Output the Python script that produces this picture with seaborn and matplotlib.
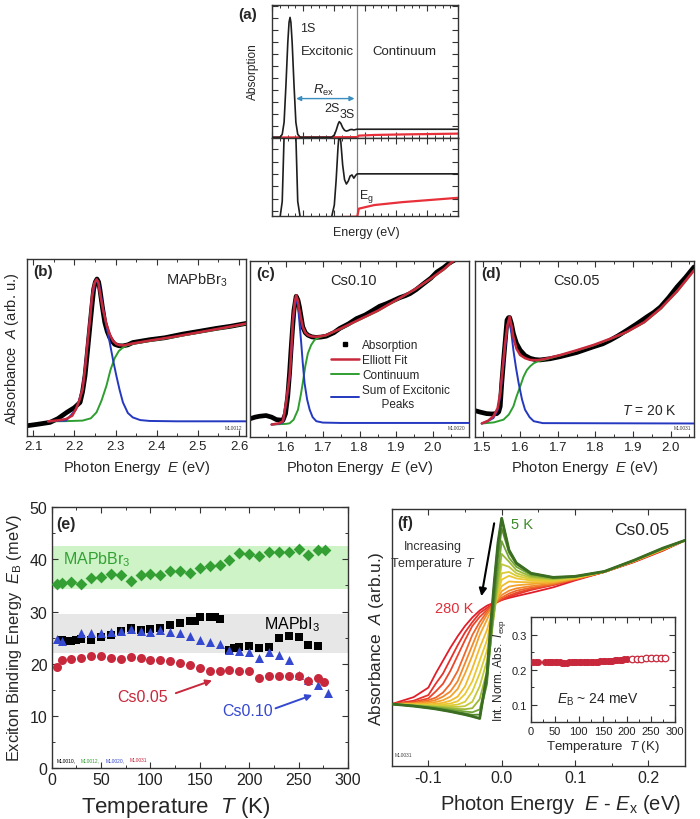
"""Exciton absorption figure: Elliott model sketch, fitted spectra, binding energies."""

import matplotlib

matplotlib.use("Agg")
import matplotlib.pyplot as plt
import pandas as pd
import seaborn as sns
from matplotlib.lines import Line2D
from matplotlib.ticker import MultipleLocator

sns.set_theme(style="ticks")
plt.rcParams["font.family"] = ["Liberation Sans", "DejaVu Sans"]
plt.rcParams["mathtext.fontset"] = "custom"
plt.rcParams["mathtext.rm"] = "Liberation Sans"
plt.rcParams["mathtext.it"] = "Liberation Sans:italic"
plt.rcParams["mathtext.bf"] = "Liberation Sans:bold"
plt.rcParams["axes.unicode_minus"] = False

BLACK = "#1e1e1e"
RED = "#c8283c"
GREEN = "#2f9e30"
BLUE = "#2438c0"
EGREEN = "#34a034"
EBLUE = "#3548d0"

# ---- (a) Elliott model sketch (arbitrary units) ----
A_X = [0.0, 0.26, 0.33, 0.39, 0.45, 0.51, 0.55, 0.582, 0.61, 0.65, 0.71, 0.77, 0.83, 0.91,
       1.92, 2.01, 2.07, 2.13, 2.17, 2.22, 2.28, 2.34, 2.40, 2.46, 2.52, 2.58, 2.64, 2.70, 2.75, 6.0]
A_ABS = [0.008, 0.008, 0.03, 0.12, 0.40, 0.72, 0.87, 0.907, 0.87, 0.72, 0.40, 0.12, 0.03, 0.008,
         0.008, 0.025, 0.06, 0.105, 0.125, 0.112, 0.08, 0.06, 0.054, 0.058, 0.065, 0.0665, 0.062,
         0.066, 0.068, 0.068]
A_CONT_X = [0.0, 2.75, 2.8, 3.3, 4.2, 5.1, 6.0]
A_CONT = [0.006, 0.009, 0.02, 0.025, 0.029, 0.032, 0.035]
A_EG = 2.75

# ---- (b) MAPbBr3 ----
B_DATA_X = [2.085, 2.11, 2.141, 2.16, 2.182, 2.2, 2.214, 2.22, 2.226, 2.232, 2.238, 2.243, 2.247,
            2.251, 2.255, 2.259, 2.262, 2.268, 2.274, 2.28, 2.286, 2.292, 2.298, 2.308, 2.318, 2.33,
            2.342, 2.36, 2.383, 2.42, 2.464, 2.5, 2.545, 2.58, 2.617]
B_DATA_Y = [0.058, 0.066, 0.077, 0.098, 0.134, 0.16, 0.19, 0.25, 0.341, 0.48, 0.623, 0.74, 0.83,
            0.87, 0.887, 0.87, 0.83, 0.73, 0.641, 0.59, 0.556, 0.535, 0.518, 0.51, 0.509, 0.515,
            0.528, 0.535, 0.544, 0.555, 0.576, 0.59, 0.608, 0.62, 0.636]
B_FIT_X = [2.136, 2.16, 2.18, 2.195, 2.204, 2.212, 2.22, 2.226, 2.232, 2.238, 2.243, 2.248, 2.254,
           2.258, 2.262, 2.27, 2.278, 2.286, 2.294, 2.302, 2.31, 2.32, 2.34, 2.38, 2.44, 2.5, 2.56,
           2.617]
B_FIT_Y = [0.083, 0.088, 0.096, 0.115, 0.153, 0.2, 0.265, 0.38, 0.528, 0.66, 0.79, 0.86, 0.885,
           0.87, 0.81, 0.71, 0.632, 0.575, 0.537, 0.52, 0.513, 0.512, 0.522, 0.538, 0.56, 0.585,
           0.61, 0.635]
B_CONT_X = [2.136, 2.18, 2.22, 2.24, 2.254, 2.266, 2.278, 2.288, 2.298, 2.308, 2.318, 2.328, 2.34,
            2.38, 2.44, 2.5, 2.56, 2.617]
B_CONT_Y = [0.083, 0.084, 0.087, 0.10, 0.134, 0.2, 0.284, 0.375, 0.44, 0.48, 0.50, 0.512, 0.52,
            0.536, 0.558, 0.583, 0.608, 0.633]
B_EXC_X = [2.136, 2.18, 2.204, 2.22, 2.232, 2.243, 2.25, 2.255, 2.26, 2.27, 2.278, 2.286, 2.294,
           2.302, 2.31, 2.318, 2.33, 2.342, 2.36, 2.383, 2.45, 2.617]
B_EXC_Y = [0.083, 0.087, 0.15, 0.26, 0.52, 0.78, 0.86, 0.885, 0.86, 0.72, 0.62, 0.528, 0.43, 0.341,
           0.26, 0.19, 0.13, 0.105, 0.09, 0.085, 0.083, 0.083]

# ---- (c) Cs0.10 ----
C_DATA_X = [1.50, 1.515, 1.527, 1.545, 1.56, 1.573, 1.591, 1.598, 1.604, 1.609, 1.613, 1.617, 1.621,
            1.627, 1.632, 1.636, 1.645, 1.652, 1.659, 1.67, 1.682, 1.695, 1.709, 1.73, 1.746, 1.77,
            1.792, 1.815, 1.837, 1.855, 1.874, 1.89, 1.91, 1.925, 1.938, 1.955, 1.975, 1.995, 2.011,
            2.03, 2.048, 2.058]
C_DATA_Y = [0.10, 0.11, 0.115, 0.119, 0.11, 0.096, 0.092, 0.13, 0.228, 0.36, 0.491, 0.61, 0.717,
            0.797, 0.775, 0.736, 0.623, 0.59, 0.576, 0.566, 0.563, 0.565, 0.57, 0.59, 0.614, 0.64,
            0.67, 0.69, 0.717, 0.74, 0.755, 0.77, 0.789, 0.80, 0.812, 0.835, 0.868, 0.90, 0.934,
            0.96, 0.99, 1.0]
C_FIT_X = [1.56, 1.58, 1.591, 1.6, 1.609, 1.614, 1.618, 1.623, 1.627, 1.632, 1.636, 1.645, 1.652,
           1.659, 1.67, 1.682, 1.695, 1.709, 1.75, 1.8, 1.85, 1.9, 1.95, 2.0, 2.03, 2.057]
C_FIT_Y = [0.068, 0.075, 0.087, 0.2, 0.341, 0.5, 0.661, 0.76, 0.802, 0.77, 0.717, 0.623, 0.59,
           0.576, 0.568, 0.567, 0.57, 0.576, 0.615, 0.665, 0.715, 0.775, 0.835, 0.905, 0.95, 1.0]
C_CONT_X = [1.56, 1.6, 1.609, 1.62, 1.632, 1.64, 1.645, 1.652, 1.659, 1.668, 1.677, 1.686, 1.695,
            1.709, 1.75, 1.8, 1.85, 1.9, 1.95, 2.0, 2.03, 2.057]
C_CONT_Y = [0.068, 0.072, 0.075, 0.095, 0.152, 0.24, 0.303, 0.40, 0.472, 0.52, 0.548, 0.56, 0.567,
            0.574, 0.613, 0.663, 0.713, 0.773, 0.833, 0.903, 0.948, 0.998]
C_EXC_X = [1.56, 1.58, 1.591, 1.6, 1.609, 1.614, 1.618, 1.623, 1.627, 1.632, 1.636, 1.641, 1.645,
           1.65, 1.657, 1.664, 1.672, 1.682, 1.7, 1.75, 2.1]
C_EXC_Y = [0.068, 0.072, 0.08, 0.19, 0.33, 0.48, 0.64, 0.74, 0.79, 0.74, 0.65, 0.528, 0.42, 0.303,
           0.21, 0.152, 0.11, 0.087, 0.079, 0.077, 0.077]

# ---- (d) Cs0.05 ----
D_DATA_X = [1.48, 1.495, 1.511, 1.525, 1.538, 1.543, 1.547, 1.551, 1.556, 1.561, 1.565, 1.569, 1.572,
            1.577, 1.582, 1.59, 1.6, 1.613, 1.627, 1.64, 1.653, 1.68, 1.707, 1.75, 1.795, 1.82, 1.84,
            1.86, 1.884, 1.91, 1.937, 1.955, 1.973, 1.995, 2.017, 2.04, 2.062]
D_DATA_Y = [0.147, 0.138, 0.13, 0.128, 0.13, 0.14, 0.171, 0.30, 0.435, 0.56, 0.661, 0.675, 0.676,
            0.64, 0.585, 0.53, 0.491, 0.46, 0.444, 0.437, 0.435, 0.442, 0.454, 0.477, 0.51, 0.527,
            0.548, 0.572, 0.604, 0.64, 0.68, 0.705, 0.736, 0.79, 0.85, 0.905, 0.963]
D_FIT_X = [1.498, 1.515, 1.529, 1.54, 1.547, 1.554, 1.56, 1.566, 1.572, 1.577, 1.582, 1.59, 1.6,
           1.613, 1.627, 1.645, 1.662, 1.707, 1.75, 1.795, 1.84, 1.884, 1.93, 1.973, 2.017, 2.062]
D_FIT_Y = [0.074, 0.09, 0.115, 0.16, 0.247, 0.4, 0.529, 0.63, 0.68, 0.63, 0.566, 0.5, 0.463, 0.445,
           0.435, 0.434, 0.439, 0.463, 0.49, 0.52, 0.556, 0.595, 0.65, 0.727, 0.825, 0.944]
D_CONT_X = [1.498, 1.53, 1.556, 1.57, 1.582, 1.59, 1.6, 1.609, 1.618, 1.627, 1.636, 1.648, 1.662,
            1.707, 1.75, 1.795, 1.84, 1.884, 1.93, 1.973, 2.017, 2.062]
D_CONT_Y = [0.074, 0.08, 0.096, 0.125, 0.171, 0.225, 0.284, 0.34, 0.378, 0.40, 0.416, 0.428, 0.435,
            0.461, 0.488, 0.518, 0.554, 0.593, 0.648, 0.725, 0.823, 0.942]
D_EXC_X = [1.498, 1.515, 1.529, 1.54, 1.547, 1.554, 1.56, 1.566, 1.57, 1.576, 1.582, 1.589, 1.596,
           1.605, 1.613, 1.625, 1.636, 1.66, 2.062]
D_EXC_Y = [0.074, 0.088, 0.105, 0.15, 0.23, 0.38, 0.5, 0.62, 0.66, 0.6, 0.491, 0.39, 0.303, 0.21,
           0.152, 0.11, 0.087, 0.076, 0.074]

# ---- (e) exciton binding energy vs temperature ----
E_T_BR = [5, 10, 20, 30, 40, 50, 60, 70, 80, 90, 100, 110, 120, 130, 140, 150, 160, 170, 180, 190,
          200, 210, 220, 230, 240, 250, 260, 270, 277]
E_EB_BR = [35.2, 35.5, 35.7, 35.3, 36.4, 36.7, 37.1, 36.9, 35.9, 37.0, 37.2, 36.9, 37.8, 37.8, 37.3,
           38.4, 38.8, 38.9, 39.8, 41.2, 41.0, 40.6, 41.3, 41.4, 41.4, 42.0, 40.9, 41.8, 41.8]
E_T_I = [10, 15, 20, 25, 30, 40, 50, 60, 70, 80, 90, 100, 110, 120, 130, 140, 145, 150, 160, 165,
         170, 180, 185, 190, 200, 210, 220, 230, 240, 250, 260, 270]
E_EB_I = [24.5, 24.4, 24.4, 24.6, 24.8, 24.6, 25.2, 25.5, 26.2, 26.8, 26.5, 26.7, 26.8, 27.4, 27.8,
          28.1, 28.2, 29.0, 29.0, 29.0, 28.5, 22.7, 23.0, 23.3, 23.4, 23.0, 23.2, 24.9, 25.3, 25.1,
          23.5, 23.4]
E_T_CS10 = [5, 10, 30, 40, 50, 60, 70, 80, 90, 100, 110, 120, 130, 140, 150, 160, 170, 180, 190, 200,
            210, 220, 230, 240, 250, 260, 270, 280]
E_EB_CS10 = [24.7, 24.3, 25.8, 25.8, 25.9, 26.1, 26.2, 26.6, 26.3, 26.1, 26.5, 26.1, 25.8, 25.3,
             24.6, 24.1, 23.7, 22.7, 22.5, 22.2, 21.2, 22.2, 21.7, 20.7, 17.8, 16.9, 15.9, 14.4]
E_T_CS05 = [5, 10, 20, 30, 40, 50, 60, 70, 80, 90, 100, 110, 120, 130, 140, 150, 160, 170, 180, 190,
            200, 210, 220, 230, 240, 250, 260, 270, 276]
E_EB_CS05 = [19.3, 20.7, 20.9, 21.1, 21.5, 21.5, 21.2, 21.0, 21.3, 21.1, 20.8, 20.7, 20.5, 20.2,
             19.7, 19.2, 18.6, 18.6, 18.8, 18.6, 18.7, 17.2, 17.7, 17.7, 17.7, 17.7, 16.7, 17.3, 16.5]
E_BAND_BR = (34.4, 42.5)
E_BAND_I = (22.0, 29.5)

# ---- (f) temperature series of Cs0.05 (normalised absorbance) ----
F_X = [-0.15, -0.12, -0.10, -0.09, -0.08, -0.07, -0.06, -0.05, -0.04, -0.03, -0.02, -0.015, -0.01,
       -0.005, 0.0, 0.01, 0.02, 0.04, 0.07, 0.10, 0.14, 0.18, 0.22, 0.25]
F_TEMPS = [5, 20, 40, 60, 80, 100, 120, 140, 160, 180, 200, 220, 250, 280]
F_ABS = [
    [0.241, 0.233, 0.226, 0.222, 0.217, 0.212, 0.206, 0.200, 0.193, 0.185, 0.36, 0.55, 0.72, 0.87,
     0.964, 0.84, 0.79, 0.75, 0.734, 0.738, 0.757, 0.800, 0.848, 0.878],
    [0.241, 0.234, 0.228, 0.224, 0.220, 0.215, 0.210, 0.205, 0.199, 0.20, 0.32, 0.49, 0.66, 0.81,
     0.925, 0.83, 0.785, 0.747, 0.733, 0.737, 0.757, 0.800, 0.847, 0.878],
    [0.241, 0.235, 0.230, 0.227, 0.224, 0.220, 0.216, 0.212, 0.209, 0.22, 0.34, 0.48, 0.63, 0.76,
     0.875, 0.81, 0.775, 0.743, 0.731, 0.736, 0.757, 0.799, 0.846, 0.878],
    [0.241, 0.236, 0.232, 0.230, 0.228, 0.225, 0.222, 0.221, 0.225, 0.26, 0.37, 0.48, 0.60, 0.72,
     0.825, 0.795, 0.762, 0.737, 0.728, 0.735, 0.756, 0.799, 0.845, 0.878],
    [0.241, 0.237, 0.234, 0.232, 0.231, 0.230, 0.230, 0.233, 0.25, 0.31, 0.41, 0.50, 0.60, 0.70,
     0.785, 0.775, 0.75, 0.732, 0.726, 0.734, 0.756, 0.798, 0.845, 0.878],
    [0.241, 0.238, 0.236, 0.235, 0.235, 0.236, 0.239, 0.25, 0.29, 0.36, 0.45, 0.53, 0.61, 0.685,
     0.75, 0.755, 0.74, 0.727, 0.723, 0.733, 0.756, 0.798, 0.844, 0.878],
    [0.241, 0.239, 0.238, 0.238, 0.240, 0.243, 0.252, 0.28, 0.33, 0.41, 0.49, 0.56, 0.62, 0.675,
     0.725, 0.74, 0.73, 0.722, 0.720, 0.732, 0.756, 0.798, 0.844, 0.878],
    [0.241, 0.240, 0.240, 0.242, 0.246, 0.254, 0.27, 0.31, 0.38, 0.46, 0.53, 0.58, 0.625, 0.665,
     0.70, 0.718, 0.716, 0.715, 0.717, 0.731, 0.756, 0.797, 0.843, 0.878],
    [0.241, 0.242, 0.245, 0.249, 0.256, 0.27, 0.30, 0.36, 0.43, 0.51, 0.57, 0.60, 0.63, 0.655,
     0.68, 0.698, 0.703, 0.708, 0.714, 0.730, 0.756, 0.797, 0.843, 0.878],
    [0.241, 0.244, 0.25, 0.257, 0.27, 0.29, 0.33, 0.40, 0.47, 0.54, 0.59, 0.61, 0.63, 0.648,
     0.665, 0.682, 0.691, 0.70, 0.71, 0.728, 0.755, 0.796, 0.842, 0.878],
    [0.241, 0.246, 0.256, 0.266, 0.286, 0.32, 0.37, 0.44, 0.51, 0.56, 0.60, 0.617, 0.63, 0.643,
     0.655, 0.671, 0.682, 0.694, 0.707, 0.727, 0.755, 0.796, 0.841, 0.878],
    [0.241, 0.249, 0.263, 0.29, 0.32, 0.37, 0.43, 0.49, 0.545, 0.58, 0.607, 0.62, 0.63, 0.640,
     0.649, 0.663, 0.674, 0.689, 0.705, 0.726, 0.755, 0.795, 0.840, 0.878],
    [0.241, 0.254, 0.276, 0.32, 0.36, 0.415, 0.47, 0.52, 0.56, 0.595, 0.615, 0.624, 0.632, 0.639,
     0.646, 0.658, 0.668, 0.685, 0.704, 0.725, 0.755, 0.794, 0.839, 0.878],
    [0.241, 0.268, 0.305, 0.36, 0.41, 0.46, 0.505, 0.545, 0.578, 0.605, 0.624, 0.630, 0.636, 0.641,
     0.646, 0.654, 0.661, 0.674, 0.695, 0.722, 0.755, 0.793, 0.838, 0.878],
]
F_COLORS = ["#3b6e22", "#78aa38", "#d2cf3a", "#f2c52e", "#f2952c", "#ec4a2a", "#e01e2a"]

# inset: integrated normalised absorbance
I_T_FIT = [5, 10, 15, 30, 35, 40, 45, 50, 55, 60, 65, 70, 75, 80, 85, 90, 95, 100, 105, 110, 115,
           120, 125, 130, 135, 140, 145, 150, 155, 160, 165, 170, 175, 180, 185, 190, 195, 200]
I_VAL_FIT = [0.222, 0.222, 0.222, 0.221, 0.221, 0.221, 0.221, 0.221, 0.221, 0.221, 0.220, 0.220,
             0.220, 0.221, 0.221, 0.221, 0.221, 0.222, 0.222, 0.222, 0.222, 0.222, 0.223, 0.223,
             0.223, 0.223, 0.224, 0.224, 0.225, 0.225, 0.226, 0.226, 0.227, 0.227, 0.228, 0.229,
             0.230, 0.231]
I_T_OPEN = [210, 220, 230, 240, 250, 260, 270, 280]
I_VAL_OPEN = [0.232, 0.232, 0.232, 0.233, 0.233, 0.233, 0.233, 0.234]

W, H = 700.0, 820.0


def rect(left, top, right, bottom):
    """Axes rectangle from pixel edges (origin top-left)."""
    return [left / W, 1 - bottom / H, (right - left) / W, (bottom - top) / H]


def frame(ax, xmaj, xmin, ymaj=None, ymin=None, size=10, yticks=True):
    ax.xaxis.set_major_locator(MultipleLocator(xmaj))
    ax.xaxis.set_minor_locator(MultipleLocator(xmin))
    if ymaj is not None:
        ax.yaxis.set_major_locator(MultipleLocator(ymaj))
    if ymin is not None:
        ax.yaxis.set_minor_locator(MultipleLocator(ymin))
    ax.tick_params(which="both", direction="in", top=True, right=True,
                   labelsize=size, color="#333333", labelcolor="#222222", pad=3)
    ax.tick_params(which="major", length=4, width=0.8)
    ax.tick_params(which="minor", length=2.2, width=0.7)
    if not yticks:
        ax.tick_params(axis="y", which="both", left=False, right=False, labelleft=False)
    for spine in ax.spines.values():
        spine.set_visible(True)
        spine.set_linewidth(1.0)
        spine.set_color("#333333")
    ax.set_xlabel("")
    ax.set_ylabel("")


def line(ax, x, y, color, lw, z=2):
    sns.lineplot(x=x, y=y, color=color, linewidth=lw, sort=False, estimator=None, ax=ax, zorder=z)


fig = plt.figure(figsize=(7.0, 8.2), dpi=100)

# ---------------- (a) ----------------
ax_a1 = fig.add_axes(rect(272, 6, 458, 139.3))
ax_a2 = fig.add_axes(rect(272, 139.3, 458, 217.3))
for ax, ylim in ((ax_a1, (0.0, 1.0)), (ax_a2, (0.0095, 0.117))):
    line(ax, A_CONT_X, A_CONT, "#e8303a", 1.6, z=2)
    line(ax, A_X, A_ABS, BLACK, 1.2, z=3)
    ax.axvline(A_EG, color="#808080", lw=0.9, zorder=1)
    ax.set_xlim(0, 6)
    ax.set_ylim(*ylim)
    frame(ax, 1, 0.25, size=8)
    ax.tick_params(labelbottom=False, labelleft=False)
ax_a1.yaxis.set_major_locator(MultipleLocator(0.09))
ax_a2.yaxis.set_major_locator(MultipleLocator(0.017))
ax_a1.annotate("", xy=(A_EG, 0.298), xytext=(0.69, 0.298),
               arrowprops=dict(arrowstyle="<|-|>", color="#3a8fc0", lw=1.0, mutation_scale=7))
ax_a1.text(0.89, 0.83, "1S", fontsize=9, va="center")
ax_a1.text(1.78, 0.656, "Excitonic", fontsize=9.5, ha="center", va="center")
ax_a1.text(4.28, 0.656, "Continuum", fontsize=9.5, ha="center", va="center")
ax_a1.text(1.68, 0.37, r"$R_\mathrm{ex}$", fontsize=9.5, ha="center", va="center")
ax_a1.text(1.93, 0.225, "2S", fontsize=9, ha="center", va="center")
ax_a1.text(2.42, 0.18, "3S", fontsize=9, ha="center", va="center")
ax_a2.text(2.82, 0.038, r"E$_\mathrm{g}$", fontsize=9, va="center")
fig.text(238 / W, 1 - 15 / H, "(a)", fontsize=11, fontweight="bold", va="center")
fig.text(253 / W, 1 - 72 / H, "Absorption", fontsize=8.6, rotation=90, ha="center", va="center")
fig.text(366 / W, 1 - 233 / H, "Energy (eV)", fontsize=9, ha="center", va="center")

# ---------------- (b)-(d) ----------------
spectra = [
    (rect(27, 260, 246, 437), B_DATA_X, B_DATA_Y, B_FIT_X, B_FIT_Y, B_CONT_X, B_CONT_Y,
     B_EXC_X, B_EXC_Y, (2.085, 2.617), "(b)", "MAPbBr$_3$", 2.497, "ML0012"),
    (rect(250, 261.5, 469, 437.5), C_DATA_X, C_DATA_Y, C_FIT_X, C_FIT_Y, C_CONT_X, C_CONT_Y,
     C_EXC_X, C_EXC_Y, (1.501, 2.099), "(c)", "Cs0.10", 1.784, "ML0020"),
    (rect(475, 261.5, 694, 437.5), D_DATA_X, D_DATA_Y, D_FIT_X, D_FIT_Y, D_CONT_X, D_CONT_Y,
     D_EXC_X, D_EXC_Y, (1.48, 2.062), "(d)", "Cs0.05", 1.75, "ML0031"),
]
spec_axes = []
for (r, dx, dy, fx, fy, cx, cy, ex, ey, xlim, tag, name, name_x, code) in spectra:
    ax = fig.add_axes(r)
    line(ax, dx, dy, "black", 3.4, z=2)
    line(ax, cx, cy, GREEN, 1.4, z=3)
    line(ax, ex, ey, BLUE, 1.4, z=3)
    line(ax, fx, fy, RED, 1.8, z=4)
    ax.set_xlim(*xlim)
    ax.set_ylim(0.0, 1.0)
    frame(ax, 0.1, 0.05, size=9.5, yticks=False)
    ax.text(0.03, 0.93, tag, transform=ax.transAxes, fontsize=11, fontweight="bold", va="center")
    ax.text(name_x, 0.887, name, fontsize=10.5, ha="center", va="center")
    ax.text(0.985, 0.05, code, transform=ax.transAxes, fontsize=3.5, ha="right", va="center",
            color="#444444")
    ax.set_xlabel("Photon Energy  $E$ (eV)", fontsize=10.5, labelpad=4)
    spec_axes.append(ax)
ax_b, ax_c, ax_d = spec_axes
ax_b.set_ylabel("Absorbance  $A$ (arb. u.)", fontsize=10.5, labelpad=4)
ax_d.text(1.942, 0.153, "$T$ = 20 K", fontsize=10, ha="center", va="center")
handles = [
    Line2D([], [], color="black", marker="s", ls="none", markersize=3.5),
    Line2D([], [], color=RED, lw=1.8),
    Line2D([], [], color=GREEN, lw=1.4),
    Line2D([], [], color=BLUE, lw=1.4),
]
ax_c.legend(handles, ["Absorption", "Elliott Fit", "Continuum", "Sum of Excitonic\n      Peaks"],
            loc="upper left", bbox_to_anchor=(0.33, 0.6), frameon=False, fontsize=8.5,
            handlelength=2.4, handletextpad=0.3, labelspacing=0.25, borderpad=0.2)

# ---------------- (e) ----------------
ax_e = fig.add_axes(rect(51.7, 508, 348, 769.3))
ax_e.axhspan(*E_BAND_BR, color="#cdf3c6", zorder=0, lw=0)
ax_e.axhspan(*E_BAND_I, color="#e7e7e7", zorder=0, lw=0)
sns.scatterplot(x=E_T_BR, y=E_EB_BR, marker="D", s=36, color=EGREEN, linewidth=0, ax=ax_e, zorder=3)
sns.scatterplot(x=E_T_I, y=E_EB_I, marker="s", s=34, color="black", linewidth=0, ax=ax_e, zorder=3)
sns.scatterplot(x=E_T_CS10, y=E_EB_CS10, marker="^", s=42, color=EBLUE, linewidth=0, ax=ax_e, zorder=4)
sns.scatterplot(x=E_T_CS05, y=E_EB_CS05, marker="o", s=42, color=RED, linewidth=0, ax=ax_e, zorder=4)
ax_e.set_xlim(0, 300)
ax_e.set_ylim(0, 50)
frame(ax_e, 50, 25, 10, 5, size=11.5)
ax_e.text(11, 40.2, "MAPbBr$_3$", color=EGREEN, fontsize=11.5, va="center")
ax_e.text(215, 27.6, "MAPbI$_3$", color="black", fontsize=11.5, va="center")
ax_e.text(92, 13.8, "Cs0.05", color=RED, fontsize=11.5, ha="center", va="center")
ax_e.text(198, 11.0, "Cs0.10", color=EBLUE, fontsize=11.5, ha="center", va="center")
ax_e.annotate("", xy=(165, 17.0), xytext=(123, 14.2),
              arrowprops=dict(arrowstyle="-|>", color=RED, lw=1.4, mutation_scale=9))
ax_e.annotate("", xy=(266.5, 14.2), xytext=(224, 11.3),
              arrowprops=dict(arrowstyle="-|>", color=EBLUE, lw=1.4, mutation_scale=9))
ax_e.text(5, 46.8, "(e)", fontsize=11.5, fontweight="bold", va="center")
for i, (code, col) in enumerate(zip(["ML0010,", "ML0012,", "ML0020,", "ML0031"],
                                    ["black", EGREEN, EBLUE, RED])):
    ax_e.text(5 + 24.6 * i, 1.7, code, fontsize=3.5, color=col, va="center")
ax_e.set_xlabel("Temperature  $T$ (K)", fontsize=16)
ax_e.xaxis.set_label_coords(0.42, -0.1)
ax_e.set_ylabel("Exciton Binding Energy  $E_\\mathrm{B}$ (meV)", fontsize=11.8, labelpad=4)

# ---------------- (f) ----------------
ax_f = fig.add_axes(rect(391.7, 510, 685, 767))
frames = []
for temp, values in zip(F_TEMPS, F_ABS):
    frames.append(pd.DataFrame({"E": F_X, "A": values, "T": temp}))
f_df = pd.concat(frames, ignore_index=True)
f_pal = dict(zip(F_TEMPS, sns.blend_palette(F_COLORS, n_colors=len(F_TEMPS))))
sns.lineplot(data=f_df, x="E", y="A", hue="T", hue_order=F_TEMPS[::-1], palette=f_pal,
             linewidth=1.3, sort=False, estimator=None, legend=False, ax=ax_f)
line(ax_f, F_X, F_ABS[0], f_pal[F_TEMPS[0]], 2.0, z=5)
ax_f.set_xlim(-0.15, 0.25)
ax_f.set_ylim(0, 1)
frame(ax_f, 0.1, 0.05, size=11.5, yticks=False)
ax_f.text(-0.143, 0.948, "(f)", fontsize=11.5, fontweight="bold", va="center")
ax_f.text(0.191, 0.922, "Cs0.05", fontsize=12.5, ha="center", va="center")
ax_f.text(0.028, 0.94, "5 K", fontsize=10.5, color="#3d8a2a", ha="center", va="center")
ax_f.text(-0.039, 0.615, "280 K", fontsize=10.5, color="#e0303a", ha="right", va="center")
ax_f.text(-0.094, 0.82, "Increasing\nTemperature $T$", fontsize=9, color="#333333",
          ha="center", va="center", linespacing=1.25)
ax_f.annotate("", xy=(-0.0283, 0.65), xytext=(-0.0096, 0.955),
              arrowprops=dict(arrowstyle="-|>", color="black", lw=1.5, mutation_scale=11))
ax_f.text(0.01, 0.04, "ML0031", transform=ax_f.transAxes, fontsize=3.5, color="#444444")
ax_f.set_xlabel("Photon Energy  $E$ - $E_\\mathrm{x}$ (eV)", fontsize=14.5)
ax_f.xaxis.set_label_coords(0.575, -0.1)
ax_f.set_ylabel("Absorbance  $A$ (arb.u.)", fontsize=12.4, labelpad=4)

# inset
ax_i = fig.add_axes(rect(530.7, 618.3, 675, 723.3))
sns.scatterplot(x=I_T_FIT, y=I_VAL_FIT, marker="o", s=26, color=RED, linewidth=0, ax=ax_i, zorder=3)
sns.scatterplot(x=I_T_OPEN, y=I_VAL_OPEN, marker="o", s=22, color=RED, facecolor="white",
                edgecolor=RED, linewidth=0.9, ax=ax_i, zorder=3)
ax_i.set_xlim(0, 300)
ax_i.set_ylim(0.05, 0.35)
frame(ax_i, 50, 25, 0.1, 0.05, size=8)
ax_i.text(140, 0.118, "$E_\\mathrm{B}$ ~ 24 meV", fontsize=10, ha="center", va="center")
ax_i.set_xlabel("Temperature  $T$ (K)", fontsize=9.5, labelpad=1)
ax_i.set_ylabel("Int. Norm. Abs.  $I_\\mathrm{exp}$", fontsize=8.5, labelpad=2)

fig.savefig("out.png", dpi=100)
